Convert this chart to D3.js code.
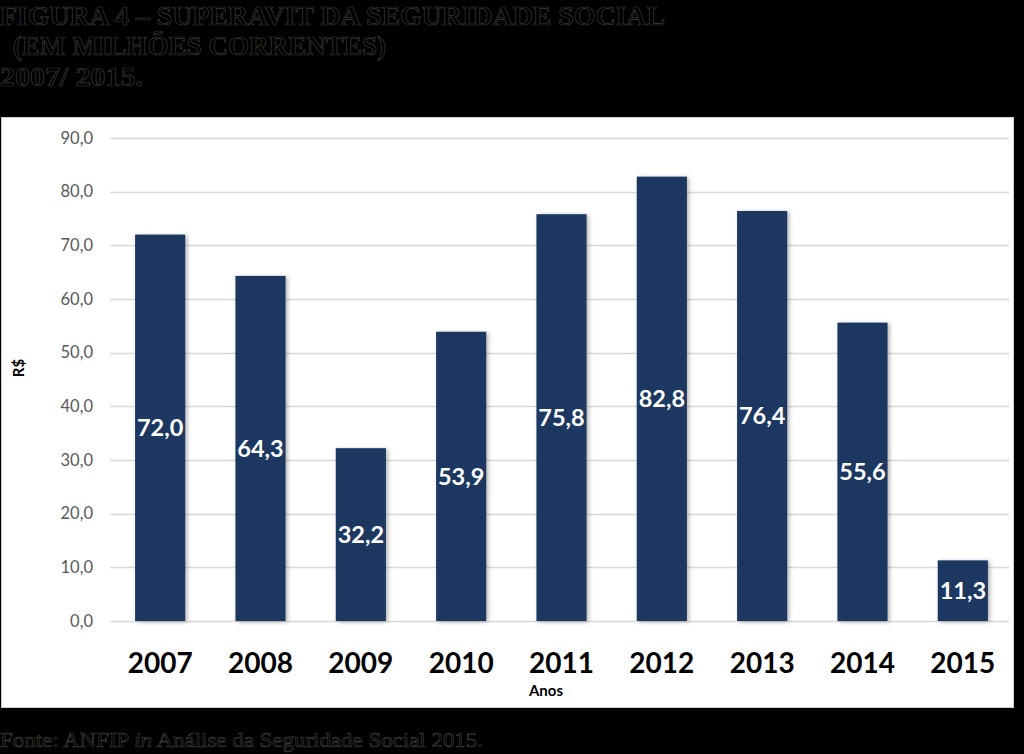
<!DOCTYPE html>
<html>
<head>
<meta charset="utf-8">
<script src="https://cdn.jsdelivr.net/npm/d3@7"></script>
<style>
  html, body { margin: 0; padding: 0; background: #000; }
  svg { display: block; }
</style>
</head>
<body>
<svg id="chart" width="1024" height="754"></svg>
<script>
const years = ["2007", "2008", "2009", "2010", "2011", "2012", "2013", "2014", "2015"];
const values = [72.0, 64.3, 32.2, 53.9, 75.8, 82.8, 76.4, 55.6, 11.3];
const yTicks = [0, 10, 20, 30, 40, 50, 60, 70, 80, 90];
const titleLines = ["FIGURA 4 – SUPERAVIT DA SEGURIDADE SOCIAL", " (EM MILHÕES CORRENTES)", "2007/ 2015."];
const sourceText = ["Fonte: ANFIP ", "in", " Análise da Seguridade Social 2015."];

const svg = d3.select("#chart");
const fmt = v => v.toFixed(1).replace(".", ",");

svg.append("rect").attr("width", 1024).attr("height", 754).attr("fill", "#000");

// shadow filter
const defs = svg.append("defs");
const f = defs.append("filter").attr("id", "sh").attr("x", "-20%").attr("y", "-10%").attr("width", "150%").attr("height", "130%");
f.append("feDropShadow").attr("dx", 2).attr("dy", 1).attr("stdDeviation", 2).attr("flood-color", "#000").attr("flood-opacity", 0.3);

// title (dark text on black)
const titleSpec = [
  {x: 0, y: 25, len: 665},
  {x: 6, y: 55, len: 380},
  {x: 0, y: 86, len: 143}
];
titleLines.forEach((t, i) => {
  svg.append("text")
    .attr("x", titleSpec[i].x).attr("y", titleSpec[i].y)
    .attr("textLength", titleSpec[i].len).attr("lengthAdjust", "spacingAndGlyphs")
    .attr("font-family", "Liberation Serif, serif").attr("font-weight", "bold")
    .attr("font-size", 27).attr("fill", "#000").attr("stroke", "#3e3a35").attr("stroke-width", 0.7)
    .attr("xml:space", "preserve")
    .text(t);
});

// panel
svg.append("rect").attr("x", 1.5).attr("y", 117.5).attr("width", 1012).attr("height", 590)
  .attr("fill", "#fff").attr("stroke", "#d0d0d0").attr("stroke-width", 1);

const x = d3.scaleBand().domain(years).range([110, 1013]).paddingInner(0.5).paddingOuter(0.25);
const y = d3.scaleLinear().domain([0, 90]).range([621, 138]);

// gridlines
svg.append("g").selectAll("line").data(yTicks).join("line")
  .attr("x1", 110).attr("x2", 1009)
  .attr("y1", d => Math.round(y(d)) + 0.5).attr("y2", d => Math.round(y(d)) + 0.5)
  .attr("stroke", "#d9d9d9").attr("stroke-width", 1.3);

// y axis labels
const yAxis = d3.axisLeft(y).tickValues(yTicks).tickFormat(fmt).tickSize(0).tickPadding(0);
const gy = svg.append("g").attr("transform", "translate(93,0)").call(yAxis);
gy.select(".domain").remove();
gy.selectAll("text").attr("font-family", "Lato, 'Open Sans', sans-serif").attr("font-size", 16.5)
  .attr("fill", "#595959");

// bars
svg.append("g").selectAll("rect").data(values).join("rect")
  .attr("x", (d, i) => x(years[i])).attr("width", x.bandwidth())
  .attr("y", d => y(d)).attr("height", d => y(0) - y(d))
  .attr("fill", "#1c3961").attr("filter", "url(#sh)");

// data labels
svg.append("g").selectAll("text").data(values).join("text")
  .attr("x", (d, i) => x(years[i]) + x.bandwidth() / 2)
  .attr("y", d => (y(d) + y(0)) / 2)
  .attr("dy", "0.36em").attr("text-anchor", "middle")
  .attr("font-family", "Lato, 'Open Sans', sans-serif").attr("font-weight", "bold")
  .attr("font-size", 23.5).attr("fill", "#fff")
  .text(fmt);

// x axis labels
const xAxis = d3.axisBottom(x).tickSize(0).tickPadding(0);
const gx = svg.append("g").attr("transform", "translate(0,653)").call(xAxis);
gx.select(".domain").remove();
gx.selectAll("text").attr("font-family", "Lato, 'Open Sans', sans-serif").attr("font-weight", "bold")
  .attr("font-size", 28).attr("fill", "#000");

// axis titles
svg.append("text").attr("x", 546).attr("y", 696).attr("text-anchor", "middle")
  .attr("font-family", "Lato, 'Open Sans', sans-serif").attr("font-weight", "bold")
  .attr("font-size", 15).attr("fill", "#000").text("Anos");
svg.append("text").attr("transform", "translate(24,368) rotate(-90)").attr("text-anchor", "middle")
  .attr("font-family", "Lato, 'Open Sans', sans-serif").attr("font-weight", "bold")
  .attr("font-size", 15).attr("fill", "#000").text("R$");

// source
const src = svg.append("text").attr("x", 0).attr("y", 747)
  .attr("textLength", 483).attr("lengthAdjust", "spacingAndGlyphs")
  .attr("font-family", "Liberation Serif, serif").attr("font-size", 22)
  .attr("fill", "#000").attr("stroke", "#3e3a35").attr("stroke-width", 0.7)
  .attr("xml:space", "preserve");
sourceText.forEach((t, i) => {
  src.append("tspan").attr("font-style", i === 1 ? "italic" : "normal").text(t);
});
</script>
</body>
</html>
